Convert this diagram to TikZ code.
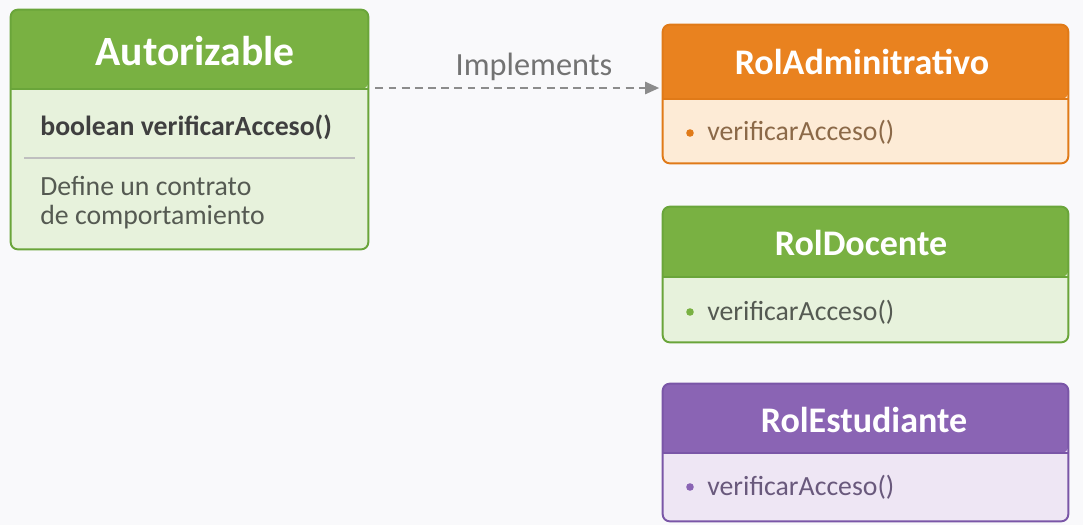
\documentclass[tikz,border=0pt]{standalone}
\usepackage{fontspec}
\setmainfont{Carlito}
\usetikzlibrary{arrows.meta}

\definecolor{bgpaper}{HTML}{F9F9FB}
\definecolor{grnhead}{HTML}{79B142}
\definecolor{grnbody}{HTML}{E7F2DC}
\definecolor{grnline}{HTML}{6AA53A}
\definecolor{orghead}{HTML}{E9821F}
\definecolor{orgbody}{HTML}{FDEBD6}
\definecolor{orgline}{HTML}{E07A18}
\definecolor{purhead}{HTML}{8A64B4}
\definecolor{purbody}{HTML}{EEE6F4}
\definecolor{purline}{HTML}{7A56A7}
\definecolor{txtdark}{HTML}{3F3F3F}
\definecolor{txtgrey}{HTML}{555A52}
\definecolor{arrgrey}{HTML}{8C8C8C}

\tikzset{
  classbody/.style={fill=#1,rounded corners=4pt,inner sep=0pt},
  classframe/.style={draw=#1,line width=1.1pt,rounded corners=4pt},
  classtitle/.style={anchor=base,inner sep=0pt,text=white,font=\fontsize{20.5}{24}\selectfont\bfseries},
  membertxt/.style={anchor=base west,inner sep=0pt,font=\fontsize{15.8}{19}\selectfont},
  implarrow/.style={arrgrey,line width=1pt,dash pattern=on 4.5pt off 3pt,-{Triangle[length=8pt,width=7pt]}},
}

\begin{document}
\begin{tikzpicture}[x=0.02cm,y=-0.02cm]
  \fill[bgpaper] (0,0) rectangle (1083,525);
  \useasboundingbox (0,0) rectangle (1083,525);

  % interface
  \node[classbody=grnbody,minimum width=7.14cm,minimum height=4.78cm] (aut) at (189.5,129.5) {};
  \fill[grnhead,rounded corners=4pt] (aut.west |- 0,89) -- (aut.north west) -- (aut.north east) -- (aut.east |- 0,89) [sharp corners] -- cycle;
  \draw[grnline,line width=0.8pt] (aut.west |- 0,89) -- (aut.east |- 0,89);
  \draw[classframe=grnline] (aut.north west) rectangle (aut.south east);
  \node[classtitle,font=\fontsize{23.7}{27}\selectfont\bfseries] (autT) at (195,65) {Autorizable};
  \node[membertxt,text=txtdark,font=\fontsize{15.8}{19}\selectfont\bfseries] (autM) at (40,135) {boolean verificarAcceso()};
  \draw[black!25,line width=0.6pt] (24,158) -- (355,158);
  \node[membertxt,text=txtgrey] (autD1) at (40,195) {Define un contrato};
  \node[membertxt,text=txtgrey] (autD2) at (40,224) {de comportamiento};

  % admin
  \node[classbody=orgbody,minimum width=8.1cm,minimum height=2.76cm] (adm) at (865.5,94) {};
  \fill[orghead,rounded corners=4pt] (adm.west |- 0,99) -- (adm.north west) -- (adm.north east) -- (adm.east |- 0,99) [sharp corners] -- cycle;
  \draw[orgline,line width=0.8pt] (adm.west |- 0,99) -- (adm.east |- 0,99);
  \draw[classframe=orgline] (adm.north west) rectangle (adm.south east);
  \node[classtitle] (admT) at (862,74) {RolAdminitrativo};
  \fill[orgline] (690,133) circle (3.8);
  \node[membertxt,text=orgline!45!black!75] (admM) at (707,140) {verificarAcceso()};

  % docente
  \node[classbody=grnbody,minimum width=8.1cm,minimum height=2.7cm] (doc) at (865.5,274.5) {};
  \fill[grnhead,rounded corners=4pt] (doc.west |- 0,277) -- (doc.north west) -- (doc.north east) -- (doc.east |- 0,277) [sharp corners] -- cycle;
  \draw[grnline,line width=0.8pt] (doc.west |- 0,277) -- (doc.east |- 0,277);
  \draw[classframe=grnline] (doc.north west) rectangle (doc.south east);
  \node[classtitle] (docT) at (861,255) {RolDocente};
  \fill[grnhead] (690,312) circle (3.8);
  \node[membertxt,text=txtgrey] (docM) at (707,320) {verificarAcceso()};

  % estudiante
  \node[classbody=purbody,minimum width=8.1cm,minimum height=2.74cm] (est) at (865.5,452.5) {};
  \fill[purhead,rounded corners=4pt] (est.west |- 0,453) -- (est.north west) -- (est.north east) -- (est.east |- 0,453) [sharp corners] -- cycle;
  \draw[purline,line width=0.8pt] (est.west |- 0,453) -- (est.east |- 0,453);
  \draw[classframe=purline] (est.north west) rectangle (est.south east);
  \node[classtitle] (estT) at (864,432) {RolEstudiante};
  \fill[purhead] (690,487) circle (3.8);
  \node[membertxt,text=purline!55!black!80] (estM) at (707,495) {verificarAcceso()};

  % realizacion
  \draw[implarrow] ([xshift=4pt]aut.east |- 0,88) -- ([xshift=-2pt]adm.west |- 0,88);
  \node[anchor=base,inner sep=0pt,text=black!55,font=\fontsize{18.4}{21}\selectfont] (impl) at (534,75) {Implements};
\end{tikzpicture}
\end{document}
